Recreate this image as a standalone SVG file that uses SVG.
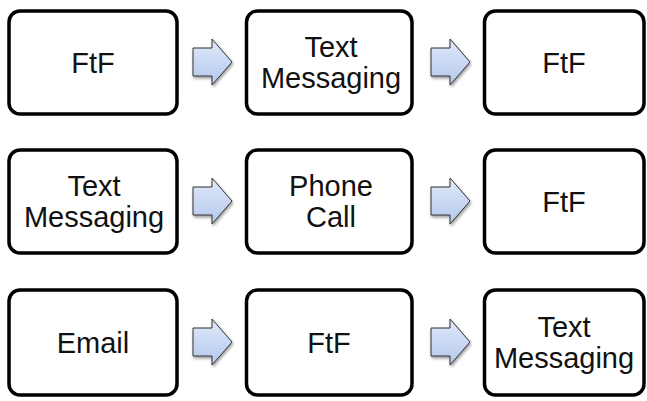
<svg xmlns="http://www.w3.org/2000/svg" width="647" height="401" viewBox="0 0 647 401">
<defs>
<linearGradient id="ag" x1="0" y1="0" x2="0" y2="1">
<stop offset="0" stop-color="#e0e9fa"/>
<stop offset="1" stop-color="#b4c8ec"/>
</linearGradient>
<filter id="sh" x="-30%" y="-30%" width="160%" height="160%">
<feGaussianBlur in="SourceAlpha" stdDeviation="1.5"/>
<feOffset dx="1" dy="2" result="b"/>
<feComponentTransfer><feFuncA type="linear" slope="0.4"/></feComponentTransfer>
<feMerge><feMergeNode/><feMergeNode in="SourceGraphic"/></feMerge>
</filter>
<path id="arr" d="M0,-14 H19 V-23 L39,0 L19,23 V14 H0 Z"/>
</defs>
<style>
.box{fill:#fff;stroke:#000;stroke-width:3.5}
.t{font-family:"Liberation Sans",Arial,sans-serif;font-size:29px;fill:#111;text-anchor:middle}
.a{fill:url(#ag);stroke:#333;stroke-width:1;filter:url(#sh)}
</style>
<g id="connectors">
<use href="#arr" class="a" x="193" y="62"/>
<use href="#arr" class="a" x="431" y="62"/>
<use href="#arr" class="a" x="193" y="201"/>
<use href="#arr" class="a" x="431" y="201"/>
<use href="#arr" class="a" x="193" y="342"/>
<use href="#arr" class="a" x="431" y="342"/>
</g>
<g id="n1"><rect class="box" x="9" y="11" width="168" height="103" rx="11"/><text class="t" x="93" y="73">FtF</text></g>
<g id="n2"><rect class="box" x="246.5" y="11" width="165.5" height="103" rx="11"/><text class="t" x="331" y="57">Text</text><text class="t" x="331" y="88">Messaging</text></g>
<g id="n3"><rect class="box" x="484.5" y="11" width="159.5" height="103" rx="11"/><text class="t" x="564" y="73">FtF</text></g>
<g id="n4"><rect class="box" x="9" y="150" width="168" height="103" rx="11"/><text class="t" x="94" y="196">Text</text><text class="t" x="94" y="227">Messaging</text></g>
<g id="n5"><rect class="box" x="246.5" y="150" width="165.5" height="103" rx="11"/><text class="t" x="331" y="196">Phone</text><text class="t" x="331" y="227">Call</text></g>
<g id="n6"><rect class="box" x="484.5" y="150" width="159.5" height="103" rx="11"/><text class="t" x="564" y="212">FtF</text></g>
<g id="n7"><rect class="box" x="9" y="290" width="168" height="105" rx="11"/><text class="t" x="93" y="353">Email</text></g>
<g id="n8"><rect class="box" x="246.5" y="290" width="165.5" height="105" rx="11"/><text class="t" x="329" y="353">FtF</text></g>
<g id="n9"><rect class="box" x="484.5" y="290" width="159.5" height="105" rx="11"/><text class="t" x="564" y="337">Text</text><text class="t" x="564" y="368">Messaging</text></g>
</svg>
